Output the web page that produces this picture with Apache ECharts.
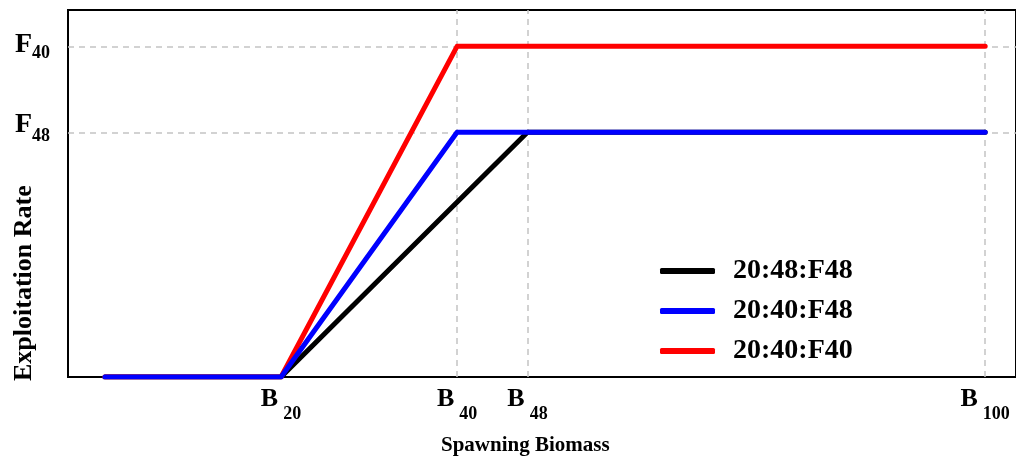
<!DOCTYPE html>
<html>
<head>
<meta charset="utf-8">
<script src="https://cdn.jsdelivr.net/npm/echarts@6/dist/echarts.min.js"></script>
<style>
    html, body { margin: 0; padding: 0; background: #fff; }
    #chart { width: 1016px; height: 459px; }
</style>
</head>
<body>
<div id="chart"></div>
<script>
// Harvest control rule reference points (relative units)
const F40 = 1.0;
const F48 = 0.74;

const seriesNames = ['20:48:F48', '20:40:F48', '20:40:F40'];
const seriesColors = ['#000000', '#0000ff', '#ff0000'];

// Spawning biomass (% of B100) and exploitation rate for each rule
const biomass_20_48_F48 = [0, 20, 48, 100];
const rate_20_48_F48 = [0, 0, F48, F48];
const biomass_20_40_F48 = [0, 20, 40, 100];
const rate_20_40_F48 = [0, 0, F48, F48];
const biomass_20_40_F40 = [0, 20, 40, 100];
const rate_20_40_F40 = [0, 0, F40, F40];

const xTicks = [20, 40, 48, 100];
const yTicks = [F48, F40];
const refLinesX = [40, 48, 100];
const refLinesY = [F40, F48];

const FONT = '"Liberation Serif", "Times New Roman", serif';

const pairs = (xs, ys) => xs.map((x, i) => [x, ys[i]]);

const lineSeries = (name, data, color, z) => ({
    name: name,
    type: 'line',
    data: data,
    symbol: 'none',
    z: z,
    lineStyle: { color: color, width: 5, cap: 'round', join: 'round' },
    itemStyle: { color: color }
});

const chart = echarts.init(document.getElementById('chart'));

chart.setOption({
    animation: false,
    backgroundColor: '#fff',
    grid: {
        left: 68,
        right: -3,
        top: 10,
        bottom: 82,
        show: true,
        borderColor: '#000',
        borderWidth: 2,
        z: 0
    },
    legend: {
        data: seriesNames,
        orient: 'vertical',
        left: 655,
        top: 250,
        icon: 'roundRect',
        itemWidth: 55,
        itemHeight: 6,
        itemGap: 8,
        textStyle: {
            fontFamily: FONT,
            fontWeight: 'bold',
            fontSize: 28,
            lineHeight: 32,
            color: '#000',
            padding: [0, 0, 0, 13]
        }
    },
    xAxis: {
        type: 'value',
        min: -4.2,
        max: 103.5,
        axisLine: { show: false },
        axisTick: { show: false },
        splitLine: { show: false },
        axisLabel: {
            customValues: xTicks,
            margin: 9,
            formatter: v => `{b|B}{s|${v}}`,
            rich: {
                b: { fontFamily: FONT, fontWeight: 'bold', fontSize: 26, color: '#000',
                     verticalAlign: 'top', lineHeight: 24 },
                s: { fontFamily: FONT, fontWeight: 'bold', fontSize: 18, color: '#000',
                     verticalAlign: 'bottom', lineHeight: 37, padding: [0, 0, 0, 5] }
            }
        }
    },
    yAxis: {
        type: 'value',
        min: 0,
        max: 1.11,
        axisLine: { show: false },
        axisTick: { show: false },
        splitLine: { show: false },
        axisLabel: {
            customValues: yTicks,
            margin: 18,
            formatter: v => v === F40 ? `{f|F}{a|40}` : `{f|F}{b|48}\n{e|}`,
            rich: {
                f: { fontFamily: FONT, fontWeight: 'bold', fontSize: 28, color: '#000',
                     verticalAlign: 'top', lineHeight: 26 },
                a: { fontFamily: FONT, fontWeight: 'bold', fontSize: 18, color: '#000',
                     verticalAlign: 'bottom', lineHeight: 31 },
                b: { fontFamily: FONT, fontWeight: 'bold', fontSize: 18, color: '#000',
                     verticalAlign: 'bottom', lineHeight: 35 },
                e: { fontSize: 1, lineHeight: 8 }
            }
        }
    },
    graphic: [
        {
            type: 'text',
            left: 441,
            top: 435,
            style: { text: 'Spawning Biomass', font: `bold 21px ${FONT}`, fill: '#000' }
        },
        {
            type: 'text',
            x: 11,
            y: 381,
            rotation: Math.PI / 2,
            style: { text: 'Exploitation Rate', font: `bold 26px ${FONT}`, fill: '#000' }
        }
    ],
    series: [
        {
            name: 'ref',
            type: 'line',
            data: [],
            z: 1,
            markLine: {
                z: 1,
                silent: true,
                symbol: 'none',
                label: { show: false },
                lineStyle: { color: '#c4c4c4', width: 1.5, type: [6, 5] },
                data: refLinesX.map(v => ({ xAxis: v })).concat(refLinesY.map(v => ({ yAxis: v })))
            }
        },
        lineSeries(seriesNames[0], pairs(biomass_20_48_F48, rate_20_48_F48), seriesColors[0], 2),
        lineSeries(seriesNames[1], pairs(biomass_20_40_F48, rate_20_40_F48), seriesColors[1], 4),
        lineSeries(seriesNames[2], pairs(biomass_20_40_F40, rate_20_40_F40), seriesColors[2], 3)
    ]
});
</script>
</body>
</html>
